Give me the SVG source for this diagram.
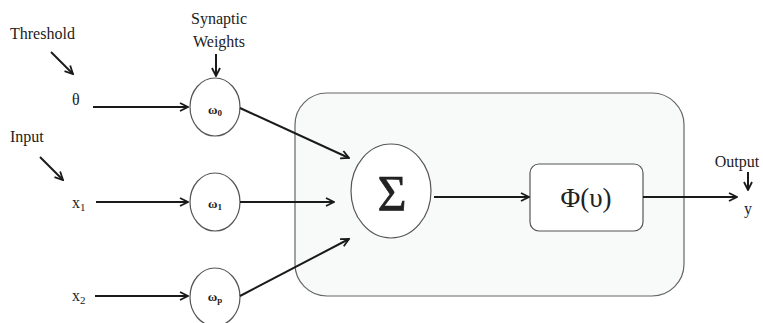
<svg xmlns="http://www.w3.org/2000/svg" width="763" height="323" viewBox="0 0 763 323" font-family="'Liberation Serif', 'Times New Roman', serif">
<style>
text{font-family:'Liberation Serif','Times New Roman',serif;fill:#222}
.lbl{font-size:16px}
.w{font-size:13px;font-weight:bold}
.c{fill:#fff;stroke:#555;stroke-width:1.2}
.e{stroke:#1a1a1a;stroke-width:2;fill:none;marker-end:url(#ah)}
</style>
<defs>
<marker id="ah" viewBox="0 0 10 10" refX="9" refY="5" markerWidth="5" markerHeight="5" orient="auto" markerUnits="strokeWidth">
<path d="M1,1 L9,5 L1,9" fill="none" stroke="#1a1a1a" stroke-width="1.8"/>
</marker>
</defs>
<g id="neuron-box"><rect x="295" y="93" width="389" height="203" rx="32" fill="#f8f9f9" stroke="#666" stroke-width="1.2"/></g>
<g id="labels">
<text class="lbl" x="10" y="39">Threshold</text>
<text class="lbl" x="10" y="142">Input</text>
<text class="lbl" x="219" y="24" text-anchor="middle">Synaptic</text>
<text class="lbl" x="219" y="47" text-anchor="middle">Weights</text>
<text class="lbl" x="737" y="167" text-anchor="middle">Output</text>
<text class="lbl" x="72" y="105">θ</text>
<text class="lbl" x="72" y="208">x<tspan font-size="11" dy="3">1</tspan></text>
<text class="lbl" x="72" y="301">x<tspan font-size="11" dy="3">2</tspan></text>
<text class="lbl" x="748" y="214" text-anchor="middle">y</text>
</g>
<g id="w0"><ellipse class="c" cx="215" cy="107" rx="25" ry="29"/><text class="w" x="215" y="114" text-anchor="middle">ω<tspan font-size="9" dy="2">0</tspan></text></g>
<g id="w1"><ellipse class="c" cx="215" cy="202" rx="25" ry="29"/><text class="w" x="215" y="208" text-anchor="middle">ω<tspan font-size="9" dy="2">1</tspan></text></g>
<g id="wp"><ellipse class="c" cx="215" cy="297" rx="25" ry="29"/><text class="w" x="215" y="301" text-anchor="middle">ω<tspan font-size="9" dy="2">p</tspan></text></g>
<g id="sum"><ellipse class="c" cx="391" cy="191" rx="40" ry="47"/><text x="392" y="210" font-size="50" text-anchor="middle" stroke="#222" stroke-width="0.6">Σ</text></g>
<g id="phi"><rect x="530" y="164" width="113" height="67" rx="9" fill="#fff" stroke="#555" stroke-width="1.2"/><text x="586" y="207" font-size="27" text-anchor="middle">Φ(υ)</text></g>
<g id="connectors">
<line class="e" x1="51" y1="52" x2="73" y2="74"/>
<line class="e" x1="40" y1="157" x2="63" y2="180"/>
<line class="e" x1="216" y1="54" x2="216" y2="76"/>
<line class="e" x1="93" y1="107" x2="188" y2="107"/>
<line class="e" x1="96" y1="202" x2="188" y2="202"/>
<line class="e" x1="95" y1="296" x2="188" y2="296"/>
<line class="e" x1="240" y1="108" x2="349" y2="158"/>
<line class="e" x1="240" y1="202" x2="334" y2="202"/>
<line class="e" x1="240" y1="296" x2="349" y2="239"/>
<line class="e" x1="434" y1="197" x2="529" y2="197"/>
<line class="e" x1="643" y1="197" x2="737" y2="197"/>
<line class="e" x1="748" y1="172" x2="748" y2="190"/>
</g>
</svg>
